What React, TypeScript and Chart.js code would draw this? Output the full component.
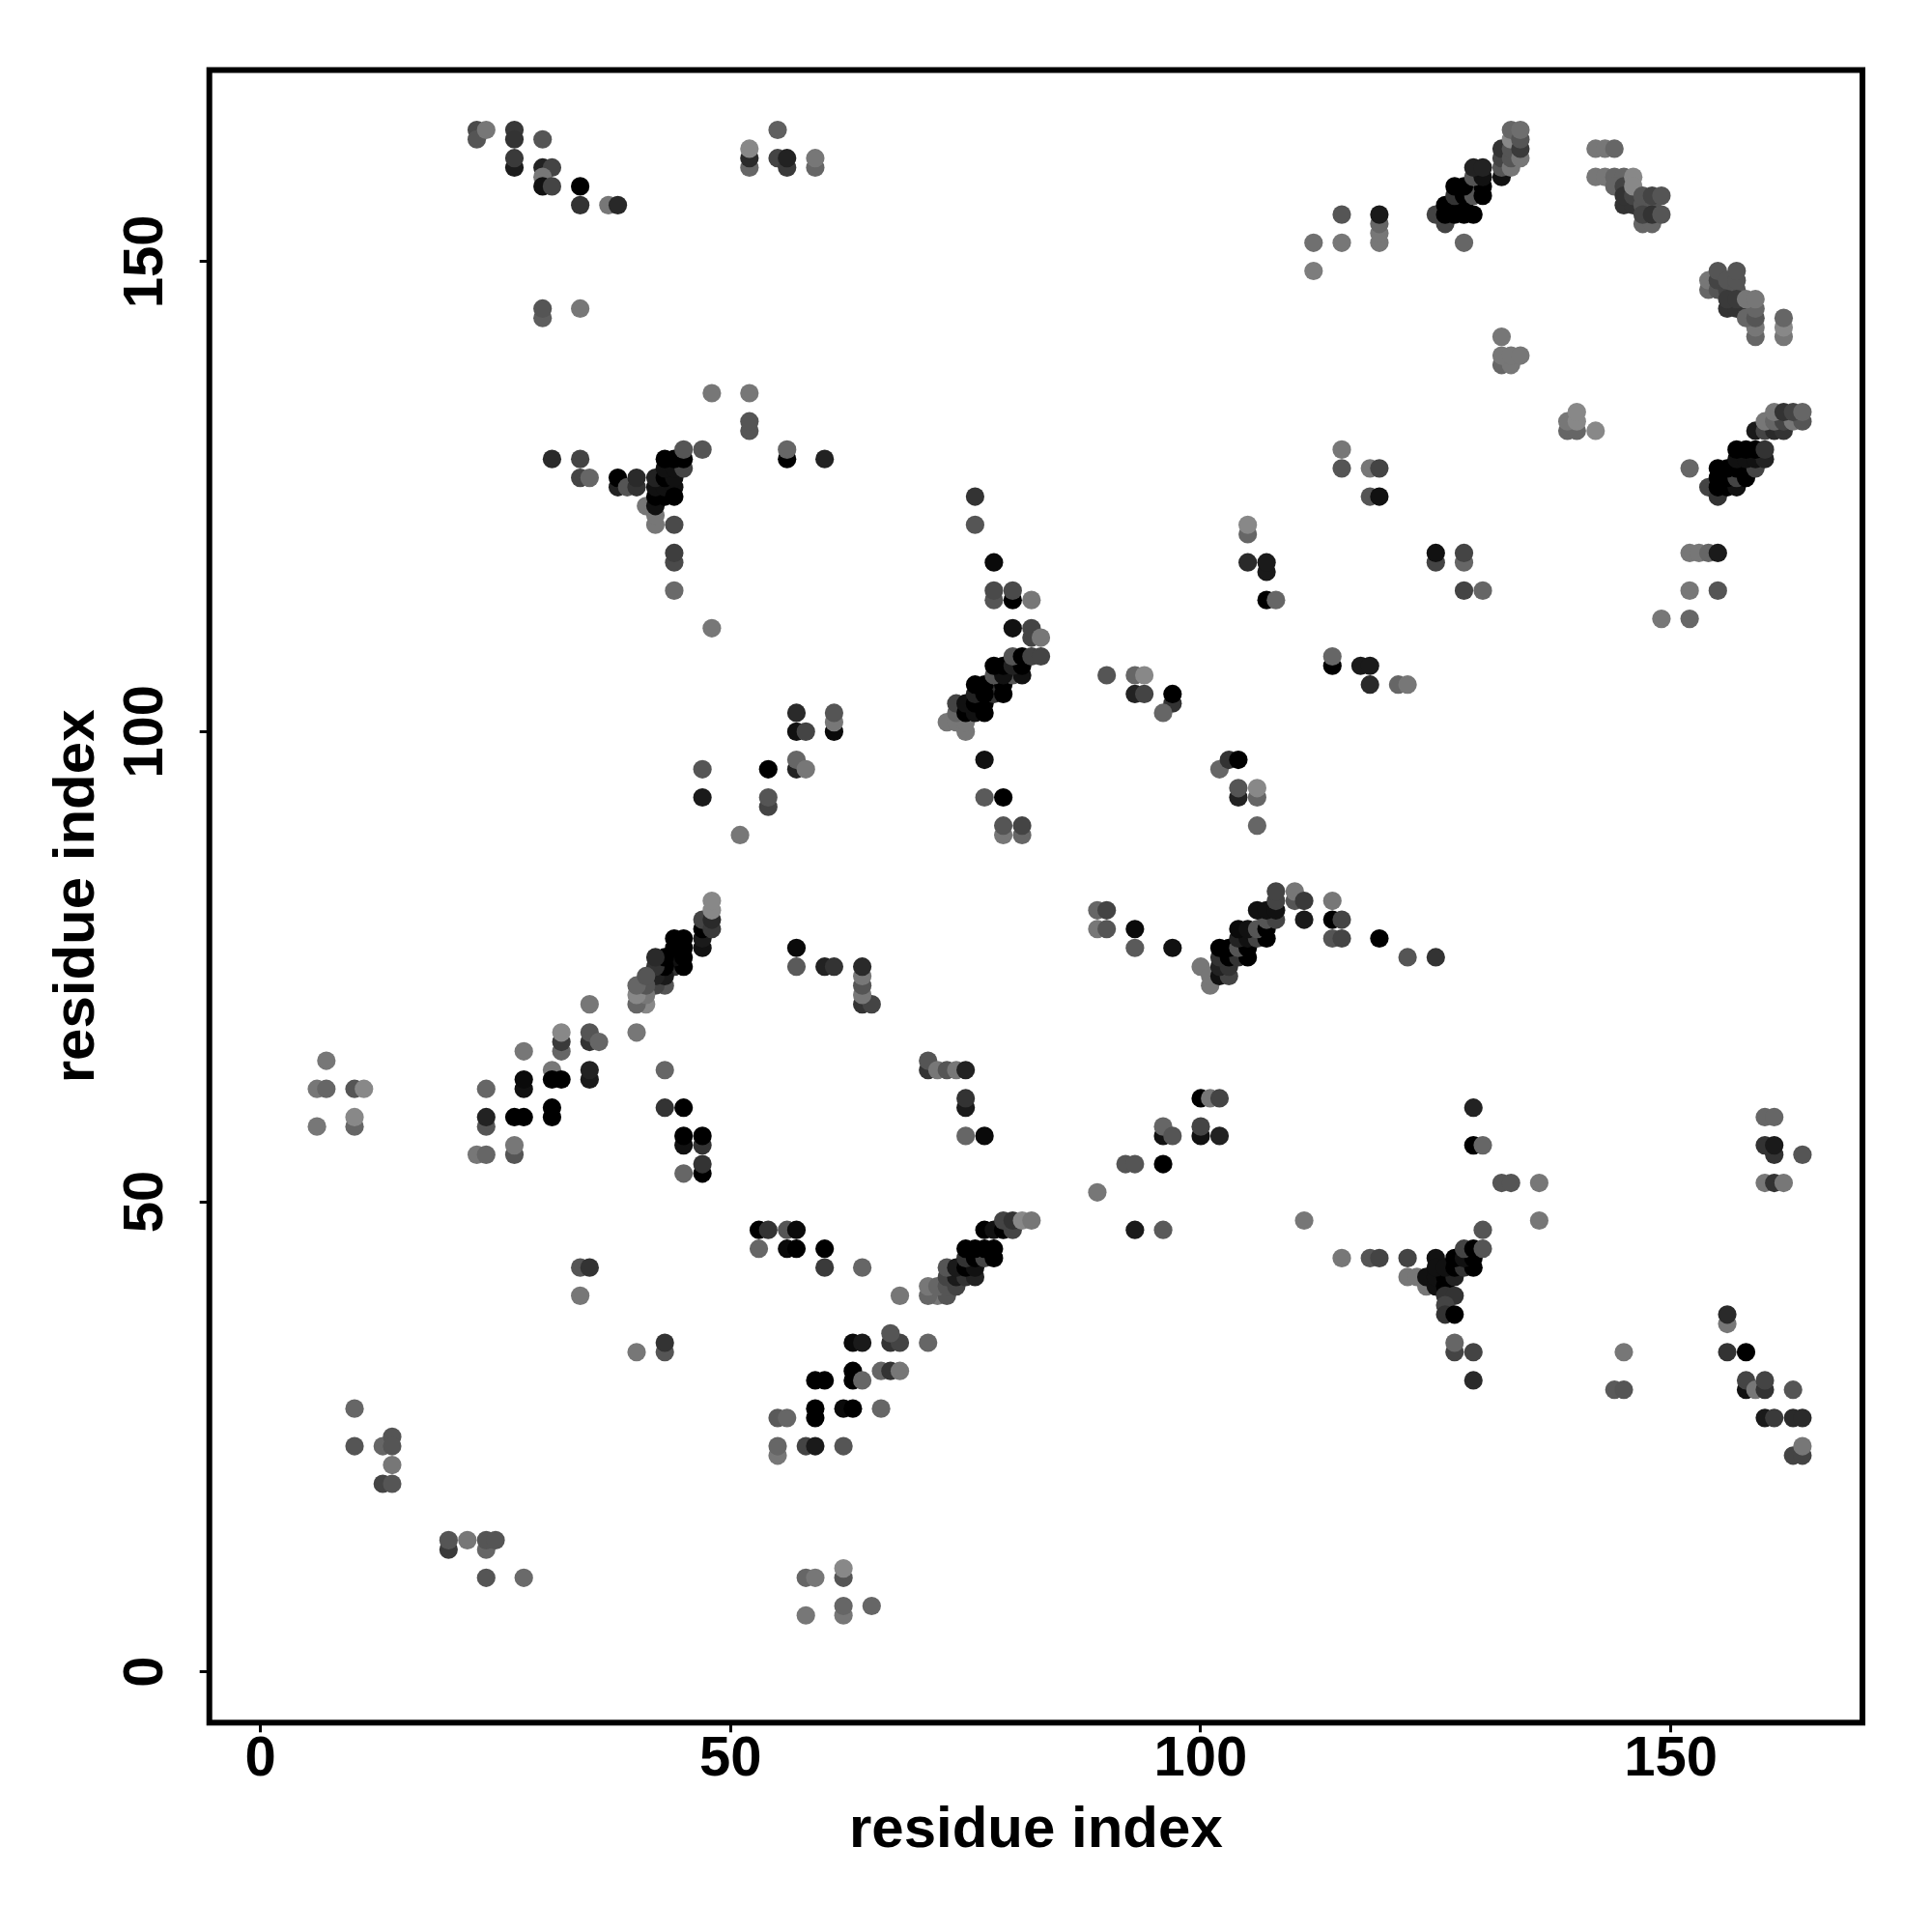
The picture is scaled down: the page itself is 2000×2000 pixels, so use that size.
import React, { useEffect, useRef } from "react";
import { Chart, registerables } from "chart.js";

Chart.register(...registerables);

type Contact = [number, number, number];

const tickValues = [0, 50, 100, 150];
const axisTitle = "residue index";

// each contact: [residue i, residue j, grey level]
const topLeft: Contact[] = [
  [23,164,0x4a],[23,163,0x55],[24,164,0x77],[27,164,0x38],[27,163,0x33],[30,163,0x55],
  [27,160,0x1c],[27,161,0x3a],[30,160,0x22],[31,160,0x44],[30,159,0x77],[30,158,0x11],[31,158,0x44],
  [34,158,0x00],[34,156,0x33],[37,156,0x77],[38,156,0x28],
  [30,144,0x5e],[30,145,0x55],[34,145,0x77],[48,136,0x77],[52,136,0x77],[52,132,0x55],[52,133,0x55],
  [52,160,0x66],[52,161,0x2a],[52,162,0x88],
];
const helixA: Contact[] = [
  [31,129,0x2a],[34,129,0x44],[34,127,0x44],[35,127,0x66],[38,126,0x22],[38,127,0x00],[39,126,0x55],
  [40,126,0x33],[40,127,0x2a],[41,124,0x77],[42,122,0x77],[42,123,0x77],[42,124,0x11],
  [42,125,0x00],[43,125,0x00],[42,126,0x11],[43,126,0x11],[44,126,0x11],[42,127,0x22],[43,127,0x00],[44,127,0x11],
  [43,128,0x11],[44,128,0x11],[45,128,0x44],[43,129,0x00],[44,129,0x00],[45,129,0x00],[44,125,0x00],
  [45,130,0x55],[47,130,0x55],[44,122,0x4a],[44,118,0x4a],[44,119,0x3e],[44,115,0x6a],[48,111,0x77],
];
const topMiddle: Contact[] = [
  [55,164,0x60],[55,161,0x44],[56,160,0x3a],[56,161,0x22],[59,160,0x66],[59,161,0x77],
  [56,129,0x00],[56,130,0x66],[60,129,0x22],[76,125,0x33],[76,122,0x55],
  [78,118,0x0a],[78,114,0x55],[78,115,0x4a],[80,114,0x00],[80,115,0x4a],[82,114,0x77],
  [105,121,0x66],[105,122,0x88],[105,118,0x2a],[107,117,0x1a],[107,118,0x1a],[107,114,0x00],[108,114,0x66],
  [112,152,0x70],[112,149,0x7d],[115,155,0x55],[115,152,0x77],[119,152,0x77],[119,153,0x77],[119,154,0x66],[119,155,0x1a],
  [128,152,0x66],
];
const helixB: Contact[] = [
  [125,155,0x44],[126,154,0x44],[126,155,0x00],[127,155,0x00],[128,155,0x00],[129,155,0x00],
  [126,156,0x00],[127,156,0x00],[128,156,0x00],[127,157,0x33],[128,157,0x00],[129,157,0x55],[130,157,0x00],
  [127,158,0x00],[128,158,0x00],[130,158,0x00],[129,159,0x55],[130,159,0x11],[129,160,0x22],[130,160,0x22],
  [132,159,0x11],[132,160,0x55],[132,161,0x44],[132,162,0x33],[133,160,0x77],[133,161,0x55],[133,162,0x55],
  [133,163,0x88],[133,164,0x66],[134,161,0x77],[134,162,0x3a],[134,163,0x55],[134,164,0x6e],
];
const strandC: Contact[] = [
  [142,162,0x77],[143,162,0x77],[144,162,0x66],[142,159,0x77],[143,159,0x77],[144,159,0x66],[145,159,0x66],
  [144,158,0x66],[145,158,0x44],[145,156,0x33],[146,156,0x33],[145,157,0x33],[146,157,0x44],[146,159,0x88],[146,158,0x88],
  [147,154,0x66],[148,154,0x66],[147,156,0x55],[148,156,0x55],[147,155,0x44],[148,155,0x33],[149,155,0x55],
  [147,157,0x55],[148,157,0x44],[149,157,0x55],
  [154,147,0x66],[154,148,0x77],[155,147,0x55],[155,148,0x44],[155,149,0x55],[156,147,0x44],[156,148,0x55],
  [157,147,0x55],[157,148,0x55],[157,149,0x55],[156,145,0x33],[157,145,0x33],[158,145,0x33],[156,146,0x3a],[157,146,0x3a],
  [159,142,0x66],[159,143,0x77],[158,144,0x66],[159,144,0x55],[159,145,0x66],[158,146,0x77],[159,146,0x77],
  [162,142,0x77],[162,143,0x88],[162,144,0x66],
];
const rightUpper: Contact[] = [
  [132,142,0x77],[132,139,0x66],[133,139,0x77],[132,140,0x77],[133,140,0x77],[134,140,0x77],
  [139,132,0x66],[140,132,0x66],[139,133,0x77],[140,133,0x88],[140,134,0x88],[142,132,0x88],
  [115,128,0x55],[115,130,0x77],[118,128,0x77],[119,128,0x44],[118,125,0x55],[119,125,0x11],
  [152,128,0x66],[154,126,0x44],[155,125,0x33],
  [155,126,0x00],[156,126,0x00],[157,126,0x11],[155,127,0x00],[156,127,0x00],[157,127,0x44],[158,127,0x00],
  [155,128,0x00],[156,128,0x00],[157,128,0x00],[158,128,0x00],[159,128,0x44],
  [157,129,0x11],[158,129,0x11],[159,129,0x11],[160,129,0x22],[157,130,0x00],[158,130,0x00],[159,130,0x00],[160,130,0x33],
  [159,132,0x1a],[160,132,0x44],[161,132,0x2a],[162,132,0x33],
  [160,133,0x77],[161,133,0x66],[162,133,0x44],[163,133,0x77],[164,133,0x55],
  [161,134,0x77],[162,134,0x33],[163,134,0x44],[164,134,0x66],
  [125,118,0x44],[125,119,0x11],[128,118,0x66],[128,119,0x44],[128,115,0x44],[130,115,0x66],
  [152,119,0x77],[153,119,0x77],[154,119,0x66],[155,119,0x1a],[152,115,0x77],[155,115,0x55],[149,112,0x77],[152,112,0x66],
];
const middleLeft: Contact[] = [
  [47,96,0x55],[47,93,0x1a],[51,89,0x77],[54,96,0x00],[54,92,0x44],[54,93,0x55],
  [47,77,0x11],[47,78,0x1a],[47,79,0x00],[47,80,0x44],[48,79,0x3a],[48,80,0x2a],[48,81,0x88],[48,82,0x88],
  [44,75,0x33],[45,75,0x00],[44,76,0x11],[45,76,0x00],[44,77,0x00],[45,77,0x00],[44,78,0x00],[45,78,0x00],
  [43,73,0x55],[42,73,0x44],[43,74,0x1a],[42,74,0x22],[43,75,0x00],[42,75,0x33],[43,76,0x00],[42,76,0x2a],
  [41,71,0x88],[40,71,0x66],[41,72,0x77],[40,72,0x88],[41,73,0x55],[40,73,0x66],[41,74,0x55],
  [35,71,0x77],[32,66,0x66],[32,67,0x3a],[32,68,0x88],[35,67,0x33],[35,68,0x55],[36,67,0x66],
  [28,66,0x77],[28,62,0x11],[28,63,0x0a],[31,64,0x77],[31,63,0x00],[32,63,0x00],[35,63,0x1a],[35,64,0x22],
  [7,65,0x77],[6,62,0x77],[7,62,0x66],[10,62,0x55],[11,62,0x88],[6,58,0x77],[10,58,0x66],[10,59,0x88],
  [24,62,0x66],[24,58,0x55],[24,59,0x22],[27,59,0x00],[28,59,0x00],[31,59,0x00],[31,60,0x00],
  [23,55,0x77],[24,55,0x66],[27,55,0x55],[27,56,0x77],[40,68,0x77],[43,64,0x66],[43,60,0x33],[45,60,0x00],
  [45,56,0x11],[45,57,0x00],[47,56,0x33],[47,57,0x00],[47,53,0x00],[47,54,0x33],[45,53,0x66],
];
const helixD: Contact[] = [
  [73,101,0x77],[74,101,0x77],[75,100,0x77],[75,101,0x77],[74,102,0x66],[74,103,0x44],
  [75,102,0x00],[76,102,0x11],[77,102,0x00],[75,103,0x11],[76,103,0x00],[77,103,0x00],[78,104,0x33],
  [76,104,0x22],[77,104,0x00],[79,104,0x00],[76,105,0x00],[77,105,0x00],[79,105,0x00],
  [78,106,0x55],[80,106,0x55],[79,106,0x11],[81,106,0x11],[78,107,0x00],[79,107,0x00],[80,107,0x22],[81,107,0x00],
  [80,108,0x55],[81,108,0x00],[82,108,0x44],[83,108,0x44],[82,110,0x44],[82,111,0x44],[83,110,0x77],[80,111,0x11],
];
const middleCentre: Contact[] = [
  [90,106,0x55],[93,106,0x66],[94,106,0x88],[93,104,0x22],[94,104,0x44],[97,103,0x33],[97,104,0x00],[96,102,0x66],
  [57,102,0x2a],[61,100,0x0a],[61,101,0x77],[61,102,0x55],[57,100,0x11],[58,100,0x44],
  [57,96,0x22],[57,97,0x66],[58,96,0x77],[77,97,0x11],[77,93,0x5a],[79,93,0x00],
  [79,89,0x77],[81,89,0x66],[79,90,0x55],[81,90,0x44],
  [102,96,0x66],[103,97,0x33],[104,97,0x00],[104,93,0x22],[104,94,0x55],[106,93,0x66],[106,94,0x88],[106,90,0x66],
  [89,81,0x66],[90,81,0x44],[89,79,0x77],[90,79,0x55],[93,79,0x0a],[93,77,0x5a],[97,77,0x11],
];
const helixE: Contact[] = [
  [100,75,0x77],[101,73,0x77],[101,74,0x77],[102,74,0x11],[103,74,0x44],[102,75,0x22],[103,75,0x33],
  [102,76,0x33],[103,76,0x00],[104,76,0x33],[105,76,0x00],[102,77,0x00],[103,77,0x00],[104,77,0x55],[105,77,0x00],
  [104,78,0x22],[105,78,0x11],[106,78,0x44],[107,78,0x00],[104,79,0x0a],[105,79,0x11],[106,79,0x55],[107,79,0x00],
  [107,80,0x55],[108,80,0x44],[106,81,0x11],[107,81,0x11],[108,81,0x11],[108,82,0x44],[108,83,0x44],
  [110,82,0x55],[110,83,0x77],[111,82,0x3a],[111,80,0x1a],
  [114,107,0x00],[114,108,0x66],[117,107,0x1a],[118,107,0x1a],[118,105,0x2a],[121,105,0x66],[122,105,0x77],
  [114,80,0x00],[115,80,0x44],[114,82,0x77],[114,78,0x55],[115,78,0x44],[119,78,0x00],[122,76,0x55],[125,76,0x33],
  [129,60,0x22],[129,56,0x00],[130,56,0x66],[160,59,0x66],[161,59,0x66],[161,55,0x33],[160,56,0x33],[161,56,0x1a],[164,55,0x55],
  [132,52,0x55],[133,52,0x55],[136,52,0x77],[136,48,0x77],[160,52,0x77],[161,52,0x33],[162,52,0x77],
];
const lowerMiddle: Contact[] = [
  [71,64,0x33],[71,65,0x55],[72,64,0x77],[73,64,0x55],[74,64,0x77],[75,64,0x22],[75,60,0x1a],[75,61,0x33],
  [75,57,0x66],[77,57,0x0a],[57,77,0x0a],[57,75,0x5a],[60,75,0x22],[61,75,0x33],
  [64,71,0x33],[65,71,0x44],[64,72,0x77],[64,73,0x55],[64,74,0x77],[64,75,0x2a],
  [100,61,0x00],[101,61,0x77],[102,61,0x44],[96,57,0x11],[96,58,0x66],[97,57,0x55],[100,57,0x11],[100,58,0x44],[102,57,0x22],
  [92,54,0x55],[93,54,0x55],[96,54,0x00],[89,51,0x77],[111,48,0x77],[130,47,0x55],
];
const helixF: Contact[] = [
  [72,40,0x77],[71,40,0x66],[73,40,0x55],[71,41,0x77],[72,41,0x66],[73,41,0x55],[74,41,0x44],
  [73,42,0x44],[74,42,0x1a],[75,42,0x33],[76,42,0x22],[73,43,0x55],[74,43,0x1a],[75,43,0x00],[76,43,0x11],
  [75,44,0x33],[76,44,0x00],[77,44,0x44],[78,44,0x00],[75,45,0x00],[76,45,0x00],[77,45,0x00],[78,45,0x00],
  [77,47,0x00],[78,47,0x11],[79,47,0x00],[80,47,0x44],[79,48,0x44],[80,48,0x33],[81,48,0x88],[82,48,0x77],
  [68,40,0x77],[93,47,0x1a],[96,47,0x5a],
];
const lowerLeft: Contact[] = [
  [53,45,0x66],[53,47,0x00],[54,47,0x33],[56,47,0x55],[57,47,0x0a],[56,45,0x0a],[57,45,0x00],[60,45,0x00],
  [60,43,0x3a],[64,43,0x66],[34,43,0x55],[35,43,0x33],[34,40,0x77],[43,34,0x55],[43,35,0x33],[40,34,0x77],
  [10,28,0x66],[10,24,0x55],[13,24,0x66],[14,25,0x55],[14,24,0x55],[14,22,0x77],[13,20,0x44],[14,20,0x55],
  [20,13,0x3a],[20,14,0x55],[22,14,0x77],[24,13,0x66],[24,14,0x55],[25,14,0x55],[24,10,0x55],[28,10,0x6a],
];
const lowerStrand: Contact[] = [
  [67,35,0x33],[68,35,0x44],[67,36,0x55],[66,32,0x66],[67,32,0x33],[68,32,0x77],
  [63,35,0x0a],[64,35,0x1a],[71,35,0x66],[63,31,0x00],[63,32,0x00],[64,31,0x66],[59,31,0x00],[60,31,0x00],
  [59,27,0x00],[59,28,0x00],[62,28,0x0a],[63,28,0x00],[66,28,0x66],[55,27,0x5a],[56,27,0x66],
  [55,23,0x77],[55,24,0x66],[58,24,0x44],[59,24,0x1a],[62,24,0x55],
  [62,10,0x55],[62,11,0x88],[58,10,0x66],[59,10,0x77],[62,6,0x77],[62,7,0x66],[65,7,0x66],[58,6,0x77],
];
const lowerRight: Contact[] = [
  [115,44,0x77],[118,44,0x55],[119,44,0x44],[122,44,0x44],[125,44,0x11],
  [122,42,0x77],[123,42,0x77],[124,41,0x77],[124,42,0x11],[125,41,0x11],[125,42,0x11],[126,41,0x00],[126,42,0x00],[127,42,0x22],
  [125,43,0x11],[126,43,0x11],[127,43,0x00],[128,43,0x33],[129,43,0x00],[127,44,0x00],[128,44,0x11],[129,44,0x00],
  [128,45,0x44],[129,45,0x00],[130,45,0x55],[126,40,0x33],[127,40,0x33],[126,39,0x44],[126,38,0x33],[127,38,0x00],
  [127,34,0x44],[127,35,0x66],[129,34,0x44],[129,31,0x2a],
  [145,34,0x77],[144,30,0x5a],[145,30,0x55],[156,37,0x77],[156,38,0x2a],[156,34,0x33],[158,34,0x00],
  [158,30,0x11],[158,31,0x44],[159,30,0x77],[160,30,0x33],[160,31,0x44],[163,30,0x55],
  [160,27,0x1a],[161,27,0x3a],[163,27,0x2a],[164,27,0x2a],[163,23,0x44],[164,23,0x44],[164,24,0x77],
];

const contacts: Contact[] = [
  ...topLeft, ...helixA, ...topMiddle, ...helixB, ...strandC, ...rightUpper, ...middleLeft, ...helixD,
  ...middleCentre, ...helixE, ...lowerMiddle, ...helixF, ...lowerLeft, ...lowerStrand, ...lowerRight,
];

const FONT = "'Liberation Sans', Arial, sans-serif";

const framePlugin = {
  id: "frame",
  afterDatasetsDraw(chart: any) {
    const { ctx, chartArea: a } = chart;
    ctx.save();
    ctx.strokeStyle = "#000";
    ctx.lineWidth = 6;
    ctx.lineJoin = "miter";
    ctx.strokeRect(a.left, a.top, a.right - a.left, a.bottom - a.top);
    ctx.restore();
  },
};

export default function App() {
  const ref = useRef<HTMLCanvasElement>(null);
  useEffect(() => {
    const font = { family: FONT, size: 58, weight: "bold" as const };
    const titleFont = { family: FONT, size: 60, weight: "bold" as const };
    const axisBase = {
      type: "linear" as const,
      afterBuildTicks(scale: any) {
        scale.ticks = tickValues.map((value) => ({ value }));
      },
      border: { display: false },
      grid: { drawOnChartArea: false, drawTicks: true, tickLength: 10, tickWidth: 3, tickColor: "#000" },
    };
    const chart = new Chart(ref.current!, {
      type: "scatter",
      data: {
        datasets: [
          {
            data: contacts.map(([x, y]) => ({ x, y })),
            pointRadius: 9.6,
            pointBorderWidth: 0,
            pointBackgroundColor: contacts.map(([, , g]) => `rgb(${g},${g},${g})`),
          },
        ],
      },
      options: {
        animation: false,
        responsive: false,
        devicePixelRatio: 1,
        layout: { padding: { top: 72.5, right: 72, left: 0, bottom: 0 } },
        plugins: { legend: { display: false }, tooltip: { enabled: false } },
        scales: {
          x: {
            ...axisBase,
            min: -5.445,
            max: 170.38,
            afterFit(scale: any) {
              scale.height = 216.7;
            },
            ticks: { font, color: "#000", padding: -6, maxRotation: 0, minRotation: 0, autoSkip: false, includeBounds: false },
            title: { display: true, text: axisTitle, color: "#000", font: titleFont, padding: { top: 0, bottom: 69 } },
          },
          y: {
            ...axisBase,
            min: -5.41,
            max: 170.37,
            afterFit(scale: any) {
              scale.width = 216.7;
            },
            ticks: { font, color: "#000", padding: 6, minRotation: 90, maxRotation: 90, autoSkip: false, crossAlign: "center", includeBounds: false },
            title: { display: true, text: axisTitle, color: "#000", font: titleFont, padding: { top: 44, bottom: 0 } },
          },
        },
      },
      plugins: [framePlugin],
    } as any);
    return () => chart.destroy();
  }, []);
  return (
    <canvas
      ref={ref}
      width={2000}
      height={2000}
      style={{ position: "absolute", left: 0, top: 0, width: 2000, height: 2000 }}
    />
  );
}
